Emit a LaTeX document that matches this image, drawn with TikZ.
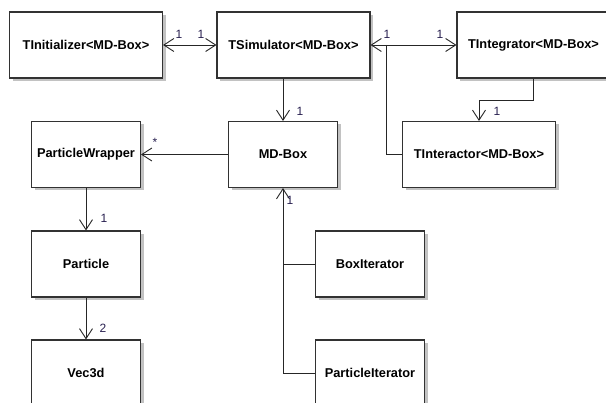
\documentclass[tikz,border=0pt]{standalone}
\usepackage{fontspec}
\setmainfont{Liberation Sans}
\usetikzlibrary{arrows.meta,shadows}
\definecolor{edgegray}{RGB}{50,50,50}
\definecolor{labelink}{RGB}{40,32,80}
\tikzset{
  classbox/.style={draw=edgegray, line width=1.1pt, fill=white, minimum height=66pt,
    inner sep=0pt, font=\fontsize{12.8}{15}\selectfont\bfseries,
    drop shadow={shadow xshift=3pt, shadow yshift=-3pt, fill=black!24, opacity=1}},
  wide/.style={classbox, minimum width=153pt},
  narrow/.style={classbox, minimum width=109pt},
  link/.style={draw=black!85, line width=0.9pt},
  navarrow/.style={link, -{Straight Barb[length=10pt,width=13pt]}},
  bothways/.style={link, {Straight Barb[length=10pt,width=13pt]}-{Straight Barb[length=10pt,width=13pt]}},
  mult/.style={text=labelink, font=\fontsize{12}{14}\selectfont, inner sep=0pt}
}
\begin{document}
\begin{tikzpicture}[x=1pt,y=-1pt]
  \useasboundingbox (0,0) rectangle (606,403);
  \clip (0,0) rectangle (606,403);
  \fill[white] (0,0) rectangle (606,403);

  % class boxes
  \node[wide]   (tinit)  at (86,45)      {TInitializer<MD-Box>};
  \node[wide]   (tsim)   at (293.5,45)   {TSimulator<MD-Box>};
  \node[wide]   (tinteg) at (533.5,45)   {TIntegrator<MD-Box>};
  \node[wide]   (tinter) at (479,154.5)  {TInteractor<MD-Box>};
  \node[narrow] (pw)     at (86,154.5)   {ParticleWrapper};
  \node[narrow] (mdbox)  at (283,154.5)  {MD-Box};
  \node[narrow] (part)   at (86,264)     {Particle};
  \node[narrow] (vec)    at (86,373)     {Vec3d};
  \node[narrow] (biter)  at (370,264)    {BoxIterator};
  \node[narrow] (piter)  at (370,373)    {ParticleIterator};

  % associations
  \draw[bothways] (tinit.east) -- (tsim.west);
  \draw[bothways] (tsim.east) -- (tinteg.west);
  \coordinate (fork) at (386,45);
  \draw[link] (fork) |- (tinter.west);
  \draw[navarrow] (tinteg.south) -- ++(0,22) -| (tinter.north);
  \draw[navarrow] (tsim.south -| mdbox.north) -- (mdbox.north);
  \draw[navarrow] (mdbox.west) -- (pw.east);
  \draw[navarrow] (pw.south) -- (part.north);
  \draw[navarrow] (part.south) -- (vec.north);
  \draw[navarrow] (piter.west) -| (mdbox.south);
  \draw[link] (biter.west) -- (biter.west -| mdbox.south);

  % multiplicities
  \node[mult] (m1) at (179,34) {1};
  \node[mult] (m2) at (201,34) {1};
  \node[mult] (m3) at (387,34) {1};
  \node[mult] (m4) at (440,34) {1};
  \node[mult] (m5) at (497,111) {1};
  \node[mult] (m6) at (300,111) {1};
  \node[mult] (m7) at (155,142) {*};
  \node[mult] (m8) at (104,218) {1};
  \node[mult] (m9) at (103,328) {2};
  \node[mult] (m10) at (290,200) {1};
\end{tikzpicture}
\end{document}
